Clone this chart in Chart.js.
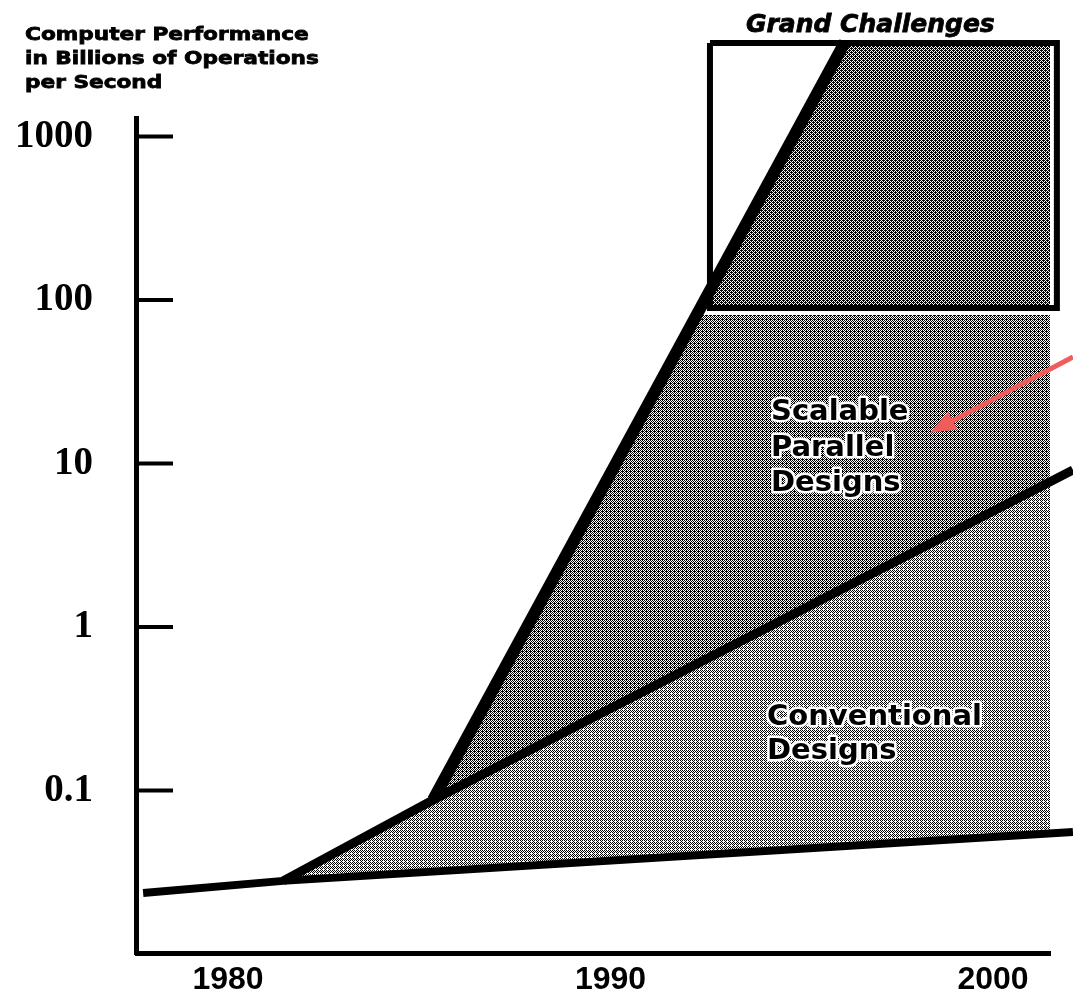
<!DOCTYPE html>
<html>
<head>
<meta charset="utf-8">
<script src="https://cdn.jsdelivr.net/npm/chart.js@4.4.1/dist/chart.umd.min.js"></script>
<style>
  html, body { margin: 0; padding: 0; background: #fff; }
  #wrap { width: 1073px; height: 993px; }
</style>
</head>
<body>
<div id="wrap"><canvas id="chart" width="1073" height="993"></canvas></div>
<script>
// ---- data (year, billions of operations per second) ----
const xTicks = [1980, 1990, 2000];
const xTickLabels = ["1980", "1990", "2000"];
const yTicks = [0.1, 1, 10, 100, 1000];
const yTickLabels = ["0.1", "1", "10", "100", "1000"];

// lowest line (floor of conventional designs)
const bottomYears = [1977.78, 1981.44, 2002.09];
const bottomPerf  = [0.0236, 0.028, 0.0557];

// top of conventional designs
const convYears = [1981.44, 1985.36, 2002.09];
const convPerf  = [0.028, 0.0875, 9.13];

// scalable parallel designs
const scalYears = [1985.36, 1996.13];
const scalPerf  = [0.0875, 3785];

// grand challenges box
const boxYears = [1992.6, 2001.67, 2001.67, 1992.6, 1992.6];
const boxPerf  = [3730, 3730, 89.4, 89.4, 3730];

// shaded areas
const gcShadeYears   = [1996.1, 2001.67, 2001.67, 1992.35];
const gcShadePerf    = [3730, 3730, 89.4, 89.4];
const parShadeYears  = [1992.25, 2001.54, 2001.54, 1985.36];
const parShadePerf   = [81, 81, 7.84, 0.0875];
const convShadeYears = [1981.44, 1985.36, 2001.54, 2001.54];
const convShadePerf  = [0.028, 0.0875, 7.84, 0.0547];

// red arrow pointing at the scalable region
const arrowYears = [2002.09, 1998.35];
const arrowPerf  = [44.8, 15.4];

// axis extents
const X_MIN = 1977.62, X_MAX = 2001.49;
const Y_MIN = 0.01014, Y_MAX = 6839;
const Y_AXIS_TOP = 1334;

function pts(xs, ys) {
  return xs.map((x, i) => ({ x: x, y: ys[i] }));
}

// halftone-ish fill patterns
function makePattern(rows) {
  const c = document.createElement("canvas");
  c.width = rows[0].length;
  c.height = rows.length;
  const g = c.getContext("2d");
  g.fillStyle = "#fff";
  g.fillRect(0, 0, c.width, c.height);
  g.fillStyle = "#000";
  rows.forEach((r, y) => {
    for (let x = 0; x < r.length; x++) if (r[x] === "1") g.fillRect(x, y, 1, 1);
  });
  return g.createPattern(c, "repeat");
}
const darkPat  = makePattern(["1011", "0101", "1110", "0101"]);
const midPat   = makePattern(["1010", "0101", "1010", "0111"]);
const lightPat = makePattern(["1010", "0100", "1010", "0101"]);

function shade(data, pat) {
  return { data: data, showLine: true, fill: "shape", backgroundColor: pat,
    borderWidth: 0, pointRadius: 0, order: 3, clip: false };
}
function line(data, w) {
  return { data: data, showLine: true, fill: false, borderColor: "#000",
    borderWidth: w, pointRadius: 0, order: 1, clip: false, borderJoinStyle: "miter" };
}

// texts, axis line, inward ticks, arrow
const decorPlugin = {
  id: "decor",
  afterDatasetsDraw(chart) {
    const c = chart.ctx;
    const xs = chart.scales.x, ys = chart.scales.y;
    const area = chart.chartArea;

    // y axis line
    c.save();
    c.strokeStyle = "#000";
    c.lineWidth = 5;
    c.beginPath();
    c.moveTo(area.left - 0.5, ys.getPixelForValue(Y_AXIS_TOP));
    c.lineTo(area.left - 0.5, area.bottom + 2);
    c.stroke();
    // inward ticks
    c.lineWidth = 4;
    yTicks.forEach(v => {
      const y = ys.getPixelForValue(v);
      c.beginPath();
      c.moveTo(area.left, y);
      c.lineTo(area.left + 36, y);
      c.stroke();
    });

    // red arrow
    const x0 = xs.getPixelForValue(arrowYears[0]), y0 = ys.getPixelForValue(arrowPerf[0]);
    const x1 = xs.getPixelForValue(arrowYears[1]), y1 = ys.getPixelForValue(arrowPerf[1]);
    const ang = Math.atan2(y1 - y0, x1 - x0);
    const ca = Math.cos(ang), sa = Math.sin(ang);
    c.strokeStyle = "#f05c5c";
    c.fillStyle = "#f05c5c";
    c.lineWidth = 5;
    c.beginPath();
    c.moveTo(x0, y0);
    c.lineTo(x1 - 18 * ca, y1 - 18 * sa);
    c.stroke();
    c.beginPath();
    c.moveTo(x1, y1);
    c.lineTo(x1 - 26 * ca + 10 * sa, y1 - 26 * sa - 10 * ca);
    c.lineTo(x1 - 26 * ca - 10 * sa, y1 - 26 * sa + 10 * ca);
    c.closePath();
    c.fill();

    // axis title (top left), stretched and heavy like the original
    c.fillStyle = "#000";
    c.strokeStyle = "#000";
    c.lineWidth = 0.8;
    c.textAlign = "left";
    c.textBaseline = "alphabetic";
    c.font = "bold 18.5px 'DejaVu Sans'";
    [["Computer Performance", 40], ["in Billions of Operations", 64], ["per Second", 88]].forEach(t => {
      c.save();
      c.translate(25, t[1]);
      c.scale(1.17, 1);
      c.fillText(t[0], 0, 0);
      c.strokeText(t[0], 0, 0);
      c.restore();
    });

    // Grand Challenges
    c.font = "italic bold 25px 'DejaVu Sans'";
    c.fillText("Grand Challenges", 746, 32);
    c.strokeText("Grand Challenges", 746, 32);

    // region labels with white halo
    c.font = "bold 29px 'DejaVu Sans'";
    c.lineJoin = "round";
    c.strokeStyle = "#fff";
    c.lineWidth = 5;
    const labels = [
      ["Scalable", 771, 420], ["Parallel", 771, 456], ["Designs", 771, 491],
      ["Conventional", 767, 725], ["Designs", 767, 759]
    ];
    labels.forEach(l => {
      c.strokeText(l[0], l[1], l[2]);
      c.fillText(l[0], l[1], l[2]);
    });
    c.restore();
  }
};

new Chart(document.getElementById("chart"), {
  type: "scatter",
  data: {
    datasets: [
      line(pts(boxYears, boxPerf), 6),
      line(pts(scalYears, scalPerf), 12),
      line(pts(convYears, convPerf), 9),
      line(pts(bottomYears, bottomPerf), 8),
      shade(pts(gcShadeYears, gcShadePerf), darkPat),
      shade(pts(parShadeYears, parShadePerf), midPat),
      shade(pts(convShadeYears, convShadePerf), lightPat)
    ]
  },
  options: {
    responsive: false,
    animation: false,
    devicePixelRatio: 1,
    layout: { padding: { left: 0, right: 23, top: 0, bottom: 0 } },
    plugins: { legend: { display: false }, tooltip: { enabled: false } },
    scales: {
      x: {
        type: "linear",
        min: X_MIN,
        max: X_MAX,
        bounds: "data",
        afterBuildTicks: s => { s.ticks = xTicks.map(v => ({ value: v })); },
        afterFit: s => { s.height = 40; s.paddingLeft = 0; s.paddingRight = 0; },
        grid: { display: false, drawTicks: false },
        border: { display: true, color: "#000", width: 5 },
        ticks: {
          padding: 8,
          color: "#000",
          autoSkip: false,
          maxRotation: 0,
          font: { family: "'Liberation Sans'", size: 32, weight: "bold" },
          callback: v => xTickLabels[xTicks.indexOf(v)]
        }
      },
      y: {
        type: "logarithmic",
        min: Y_MIN,
        max: Y_MAX,
        bounds: "data",
        afterBuildTicks: s => { s.ticks = yTicks.map(v => ({ value: v })); },
        afterFit: s => { s.width = 137; s.paddingTop = 0; s.paddingBottom = 0; },
        grid: { display: false, drawTicks: false },
        border: { display: false },
        ticks: {
          padding: 44,
          color: "#000",
          autoSkip: false,
          font: { family: "'Liberation Serif'", size: 39, weight: "bold" },
          callback: v => yTickLabels[yTicks.indexOf(v)]
        }
      }
    }
  },
  plugins: [decorPlugin]
});
</script>
</body>
</html>
